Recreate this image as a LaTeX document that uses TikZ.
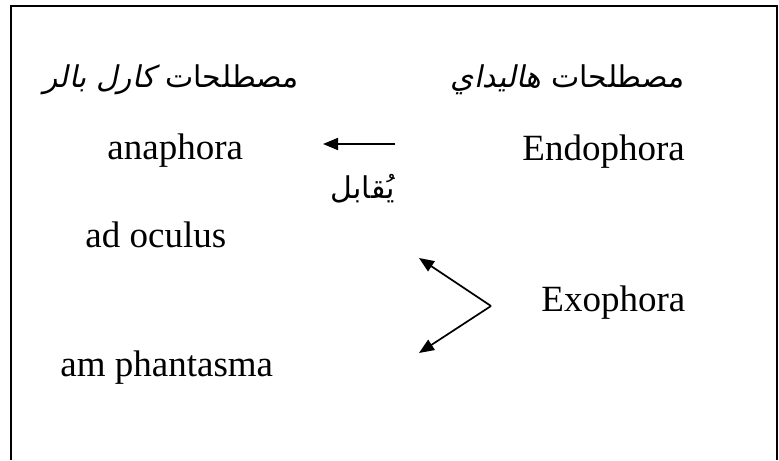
\documentclass[tikz,border=0pt]{standalone}
\usepackage{fontspec}
\setmainfont{Liberation Serif}
\newfontfamily\arabicfont[Script=Arabic]{DejaVu Sans}
\newfontfamily\arabicslant[Script=Arabic,FakeSlant=0.2]{DejaVu Sans}
\TeXXeTstate=1
\usetikzlibrary{arrows.meta}

\begin{document}
\begin{tikzpicture}[x=0.5pt,y=-0.5pt,
  term/.style={inner sep=0pt, font=\fontsize{18.5}{22}\selectfont},
  arab/.style={inner sep=0pt, font=\fontsize{15}{18}\selectfont\arabicfont},
  link/.style={line width=0.85pt, -{Triangle[length=7.5pt,width=6pt]}},
  frame/.style={line width=1pt}]
  \useasboundingbox (0,0) rectangle (779,460);

  % open frame: left, top and right sides
  \coordinate (fl) at (10.5,460);
  \coordinate (ft) at (10.5,6.5);
  \coordinate (fr) at (777,460);
  \draw[frame] (fl) -- (ft) -| (fr);

  % column headings
  \node[arab, anchor=base west] (bahler) at (43,88)
    {\beginR مصطلحات {\arabicslant كارل بالر}\endR};
  \node[arab, anchor=base east] (halliday) at (685,88)
    {\beginR مصطلحات {\arabicslant هاليداي}\endR};

  % terms
  \node[term, anchor=base west] (anaphora) at (107,159) {anaphora};
  \node[term, anchor=base west] (endophora) at (522,160) {Endophora};
  \node[term, anchor=base west] (oculus) at (85,247) {ad oculus};
  \node[term, anchor=base west] (exophora) at (541,311) {Exophora};
  \node[term, anchor=base west] (phantasma) at (60,376) {am phantasma};

  \node[arab, anchor=base east] (corresp) at (395,198) {\beginR يُقابل\endR};

  % connectors
  \coordinate (endo) at (395,144);
  \coordinate (ana) at (323,144);
  \draw[link] (endo) -- (ana);

  \coordinate (exo) at (491,306);
  \coordinate (ocu) at (419,258);
  \coordinate (pha) at (419,353);
  \draw[link] (exo) -- (ocu);
  \draw[link] (exo) -- (pha);
\end{tikzpicture}
\end{document}
